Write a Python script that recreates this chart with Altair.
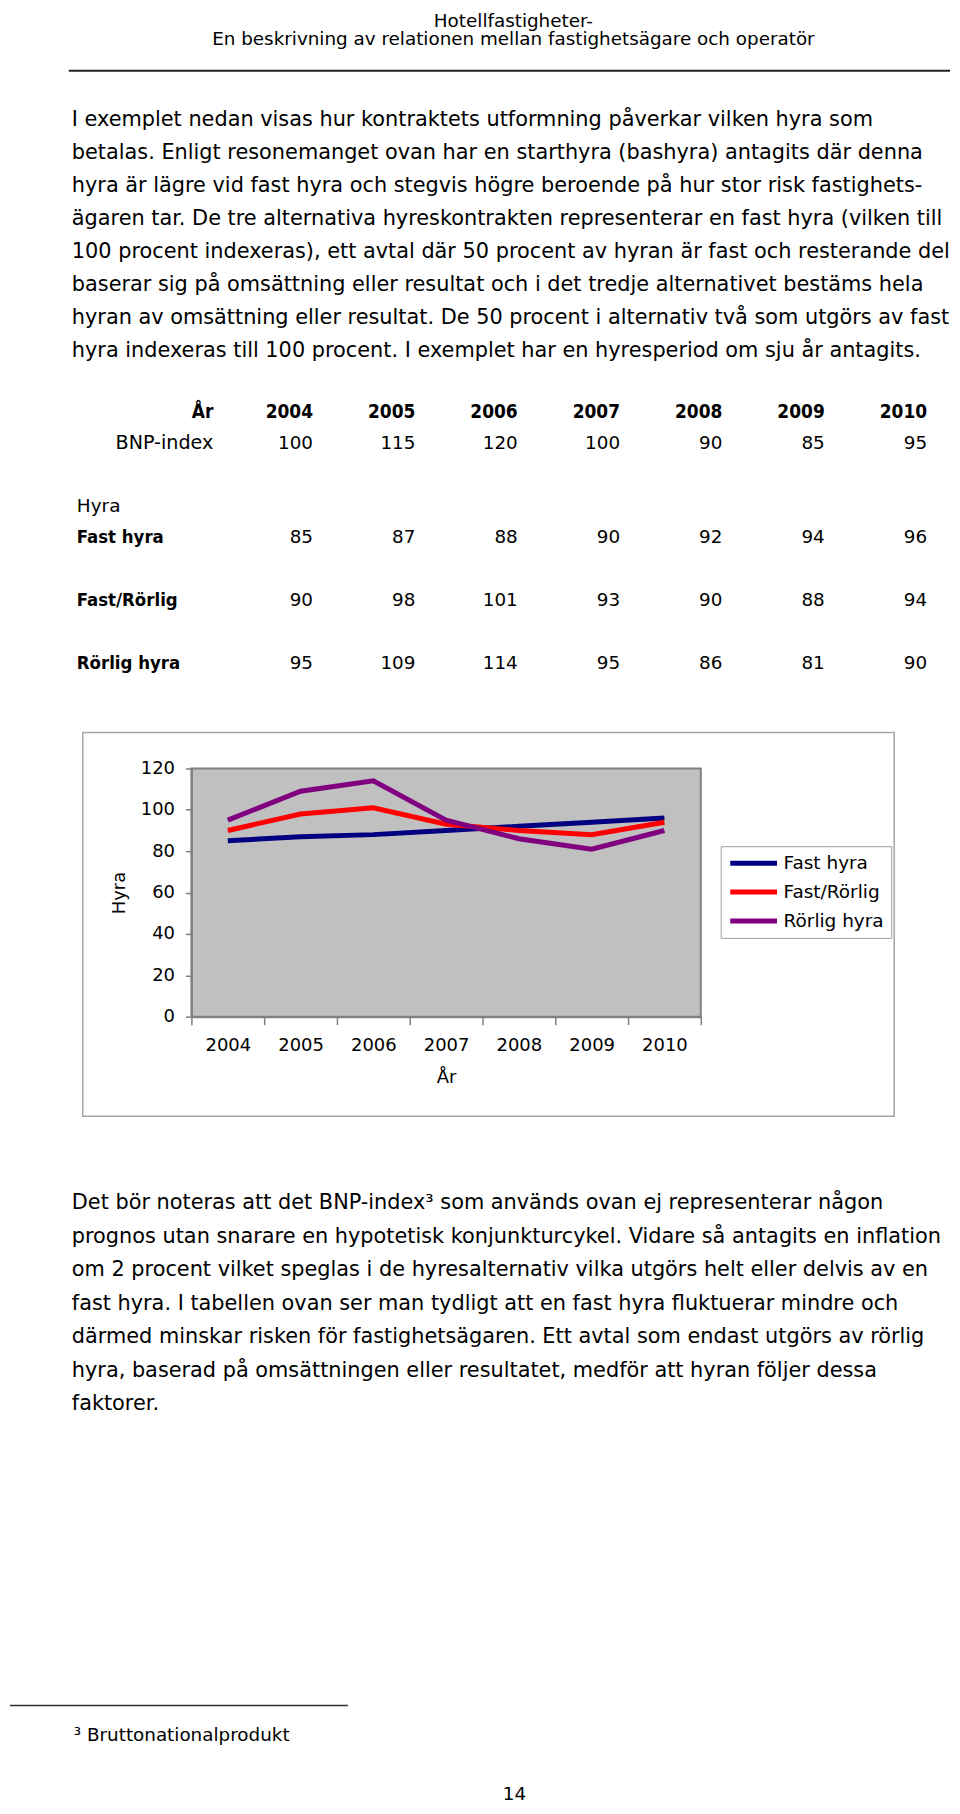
import altair as alt
import pandas as pd

FONT = "DejaVu Sans"
BOLD_FONT = "DejaVu Sans Condensed"

# ---------------- data ----------------
header_lines = [
    "Hotellfastigheter-",
    "En beskrivning av relationen mellan fastighetsägare och operatör",
]
para1_lines = [
    "I exemplet nedan visas hur kontraktets utformning påverkar vilken hyra som",
    "betalas. Enligt resonemanget ovan har en starthyra (bashyra) antagits där denna",
    "hyra är lägre vid fast hyra och stegvis högre beroende på hur stor risk fastighets-",
    "ägaren tar. De tre alternativa hyreskontrakten representerar en fast hyra (vilken till",
    "100 procent indexeras), ett avtal där 50 procent av hyran är fast och resterande del",
    "baserar sig på omsättning eller resultat och i det tredje alternativet bestäms hela",
    "hyran av omsättning eller resultat. De 50 procent i alternativ två som utgörs av fast",
    "hyra indexeras till 100 procent. I exemplet har en hyresperiod om sju år antagits.",
]
para2_lines = [
    "Det bör noteras att det BNP-index³ som används ovan ej representerar någon",
    "prognos utan snarare en hypotetisk konjunkturcykel. Vidare så antagits en inflation",
    "om 2 procent vilket speglas i de hyresalternativ vilka utgörs helt eller delvis av en",
    "fast hyra. I tabellen ovan ser man tydligt att en fast hyra fluktuerar mindre och",
    "därmed minskar risken för fastighetsägaren. Ett avtal som endast utgörs av rörlig",
    "hyra, baserad på omsättningen eller resultatet, medför att hyran följer dessa",
    "faktorer.",
]
footnote_text = ["³ Bruttonationalprodukt"]
page_number = ["14"]

years = ["2004", "2005", "2006", "2007", "2008", "2009", "2010"]
bnp_index = [100, 115, 120, 100, 90, 85, 95]
fast_hyra = [85, 87, 88, 90, 92, 94, 96]
fast_rorlig = [90, 98, 101, 93, 90, 88, 94]
rorlig_hyra = [95, 109, 114, 95, 86, 81, 90]

series_names = ["Fast hyra", "Fast/Rörlig", "Rörlig hyra"]
series_colors = ["#000080", "#FF0000", "#800080"]

year_label = "År"
bnp_label = "BNP-index"
hyra_label = "Hyra"

# table row order (blank rows keep the spacing of the original table)
table_rows = [year_label, bnp_label, " 1", hyra_label, series_names[0], " 2",
              series_names[1], " 3", series_names[2]]

NOSTROKE = alt.ViewBackground(stroke="transparent")
one = pd.DataFrame({"k": [0]})
TEXT_W = 875  # width of the text panels (line chart is centred under them)


def text_lines(lines, y0, y1, size, x, align="left", baseline="middle"):
    df = pd.DataFrame({"line": list(range(len(lines))), "text": lines})
    return alt.Chart(df).mark_text(
        align=align, baseline=baseline, font=FONT, fontSize=size, color="black"
    ).encode(
        x=alt.value(x),
        y=alt.Y("line:Q", scale=alt.Scale(domain=[0, max(len(lines) - 1, 1)], range=[y0, y1]), axis=None),
        text="text:N",
    )


# ---------------- top: header, paragraph, table ----------------
header = text_lines(header_lines, 0, 18, 18.4, 505, align="center", baseline="top")
top_rule = alt.Chart(one).mark_rule(color="#222222", strokeWidth=2).encode(
    x=alt.value(59), x2=alt.value(943), y=alt.value(59)
)
para1 = text_lines(para1_lines, 108.5, 340, 20.9, 62)

tx = alt.Scale(type="point", domain=years, range=[304, 920], padding=0)
ty = alt.Scale(type="point", domain=table_rows, range=[401, 653], padding=0)

year_row = alt.Chart(pd.DataFrame({"year": years, "row": [year_label] * 7})).mark_text(
    align="right", baseline="middle", font=BOLD_FONT, fontWeight="bold", fontSize=19, color="black"
).encode(
    x=alt.X("year:N", scale=tx, axis=None),
    y=alt.Y("row:N", scale=ty, axis=None),
    text="year:N",
)

num_rows = []
for name, vals in [(bnp_label, bnp_index), (series_names[0], fast_hyra),
                   (series_names[1], fast_rorlig), (series_names[2], rorlig_hyra)]:
    for y, v in zip(years, vals):
        num_rows.append({"year": y, "row": name, "val": v})
numbers = alt.Chart(pd.DataFrame(num_rows)).mark_text(
    align="right", baseline="middle", font=FONT, fontSize=18.4, color="black"
).encode(
    x=alt.X("year:N", scale=tx, axis=None),
    y=alt.Y("row:N", scale=ty, axis=None),
    text="val:Q",
)

lbl_year = alt.Chart(pd.DataFrame({"row": [year_label]})).mark_text(
    align="right", baseline="middle", font=BOLD_FONT, fontWeight="bold", fontSize=19, color="black"
).encode(x=alt.value(204), y=alt.Y("row:N", scale=ty, axis=None), text="row:N")
lbl_bnp = alt.Chart(pd.DataFrame({"row": [bnp_label]})).mark_text(
    align="right", baseline="middle", font=FONT, fontSize=19.2, color="black"
).encode(x=alt.value(204), y=alt.Y("row:N", scale=ty, axis=None), text="row:N")
lbl_hyra = alt.Chart(pd.DataFrame({"row": [hyra_label]})).mark_text(
    align="left", baseline="middle", font=FONT, fontSize=18.5, color="black"
).encode(x=alt.value(67), y=alt.Y("row:N", scale=ty, axis=None), text="row:N")
lbl_series = alt.Chart(pd.DataFrame({"row": series_names})).mark_text(
    align="left", baseline="middle", font=BOLD_FONT, fontWeight="bold", fontSize=18.5, color="black"
).encode(x=alt.value(67), y=alt.Y("row:N", scale=ty, axis=None), text="row:N")

top = alt.layer(
    header, top_rule, para1, year_row, numbers, lbl_year, lbl_bnp, lbl_hyra, lbl_series
).resolve_scale(x="independent", y="independent").properties(
    width=TEXT_W, height=759, view=NOSTROKE
)

# ---------------- middle: line chart ----------------
long_rows = []
for name, vals in zip(series_names, [fast_hyra, fast_rorlig, rorlig_hyra]):
    for y, v in zip(years, vals):
        long_rows.append({"year": y, "series": name, "value": v})
df_lines = pd.DataFrame(long_rows)

AX_GRAY = "#808080"
lines = alt.Chart(df_lines).mark_line(strokeWidth=5).encode(
    x=alt.X(
        "year:O",
        scale=alt.Scale(type="band", domain=years, paddingInner=0, paddingOuter=0),
        axis=alt.Axis(
            title=year_label, tickBand="extent", labelAngle=0, labelFont=FONT, labelFontSize=18,
            labelColor="black", labelPadding=12, tickSize=8, tickColor=AX_GRAY, tickWidth=1.5,
            domainColor=AX_GRAY, domainWidth=2, titleFont=FONT, titleFontSize=18,
            titleFontWeight="normal", titleColor="black", titlePadding=14,
        ),
    ),
    y=alt.Y(
        "value:Q",
        scale=alt.Scale(domain=[0, 120], nice=False, zero=True),
        axis=alt.Axis(
            title=hyra_label, values=[0, 20, 40, 60, 80, 100, 120], grid=False, labelFont=FONT,
            labelFontSize=18, labelColor="black", labelPadding=11, tickSize=6, tickColor=AX_GRAY,
            tickWidth=1.5, domainColor=AX_GRAY, domainWidth=2, titleFont=FONT, titleFontSize=18,
            titleFontWeight="normal", titleColor="black", titlePadding=12,
        ),
    ),
    color=alt.Color(
        "series:N",
        scale=alt.Scale(domain=series_names, range=series_colors),
        legend=alt.Legend(
            title=None, orient="none", legendX=713, legendY=837, symbolType="stroke",
            symbolSize=2200, symbolStrokeWidth=5, labelFont=FONT, labelFontSize=18.5,
            labelColor="black", strokeColor="#a0a0a0", fillColor="white", padding=7,
            rowPadding=9, labelOffset=4, clipHeight=20,
        ),
    ),
)

frame = alt.Chart(one).mark_rect(fill="transparent", stroke="#a6a6a6", strokeWidth=1.5).encode(
    x=alt.value(-109), x2=alt.value(705), y=alt.value(-36), y2=alt.value(349)
)

line_chart = alt.layer(frame, lines).properties(
    width=511, height=249,
    view=alt.ViewBackground(fill="#C0C0C0", stroke=AX_GRAY, strokeWidth=2),
)

# ---------------- bottom: paragraph, footnote, page number ----------------
para2 = text_lines(para2_lines, 187, 389, 20.9, 62)
foot_rule = alt.Chart(one).mark_rule(color="#333333", strokeWidth=1.5).encode(
    x=alt.value(0), x2=alt.value(339), y=alt.value(691)
)
foot = alt.Chart(pd.DataFrame({"t": footnote_text})).mark_text(
    align="left", baseline="middle", font=FONT, fontSize=18.4, color="black"
).encode(x=alt.value(64), y=alt.value(721), text="t:N")
pnum = alt.Chart(pd.DataFrame({"t": page_number})).mark_text(
    align="center", baseline="middle", font=FONT, fontSize=18.4, color="black"
).encode(x=alt.value(506), y=alt.value(780), text="t:N")

bottom = alt.layer(para2, foot_rule, foot, pnum).resolve_scale(
    x="independent", y="independent"
).properties(width=TEXT_W, height=790, view=NOSTROKE)

chart = alt.vconcat(top, line_chart, bottom, spacing=0, bounds="flush", center=True).properties(
    padding=0, background="white"
).configure(font=FONT)

chart.save("out.html", embed_options={"renderer": "svg", "actions": False})
